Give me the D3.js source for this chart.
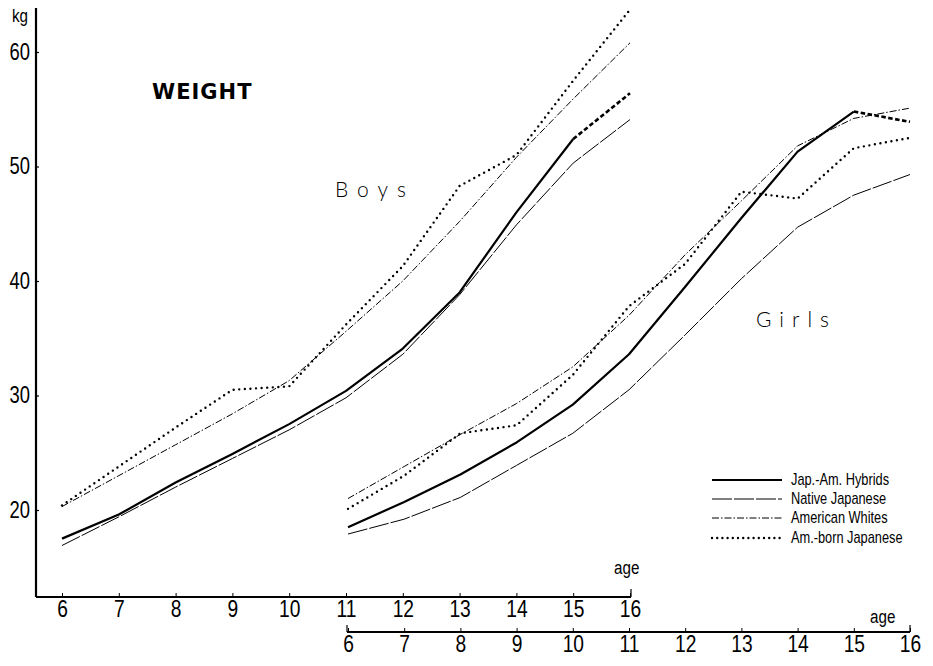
<!DOCTYPE html>
<html><head><meta charset="utf-8">
<script src="https://cdn.jsdelivr.net/npm/d3@7"></script>
<style>
body{margin:0;background:#fff;}
svg{display:block;}
.cond{font-family:"Liberation Sans Narrow","Liberation Sans",sans-serif;}
</style></head>
<body><svg id="c" width="933" height="666"></svg>
<script>
const ages = [6,7,8,9,10,11,12,13,14,15,16];
const yTicks = [20,30,40,50,60];
const seriesNames = ["Jap.-Am. Hybrids","Native Japanese","American Whites","Am.-born Japanese"];
// Boys weights (kg)
const boysHybrids = [17.5,19.6,22.4,24.9,27.5,30.4,34.1,39.0,46.0,52.4,56.4];
const boysNative  = [16.9,19.4,22.0,24.5,27.0,29.8,33.6,38.8,44.9,50.3,54.1];
const boysWhites  = [20.3,23.0,25.7,28.4,31.3,35.6,40.0,45.2,50.8,55.9,60.8];
const boysAmBorn  = [20.4,23.8,27.2,30.5,30.8,36.2,41.3,48.3,51.0,57.5,63.7];
// Girls weights (kg)
const girlsHybrids = [18.5,20.7,23.1,25.9,29.2,33.6,39.5,45.5,51.3,54.8,53.9];
const girlsNative  = [17.9,19.2,21.1,23.9,26.7,30.5,35.3,40.2,44.7,47.5,49.3];
const girlsWhites  = [21.0,23.8,26.6,29.3,32.5,37.0,42.3,47.0,51.8,54.2,55.1];
const girlsAmBorn  = [20.1,23.0,26.7,27.4,31.8,37.8,41.5,47.8,47.2,51.6,52.5];

const svg = d3.select("#c");
const y = d3.scaleLinear().domain([20,60]).range([510,52]);
const xB = d3.scaleLinear().domain([6,16]).range([62,630]);
const xG = d3.scaleLinear().domain([6,16]).range([348,910]);
const yAxisX = 36;
const yTop = 8, yBottom = y(12.4);
const girlsAxisY = 632;
const SQ = 0.8; // horizontal squeeze to imitate the condensed face

const styles = [
  {w:2.2, dash:null, cap:"butt"},
  {w:1.0, dash:"20,2", cap:"butt"},
  {w:1.0, dash:"7,2,1.5,2", cap:"butt"},
  {w:2.4, dash:"0,5.6", cap:"round"}
];

// axes
const yAx = d3.axisLeft(y).tickValues(yTicks).tickSizeInner(-3).tickSizeOuter(0).tickPadding(6);
const gy = svg.append("g").attr("transform",`translate(${yAxisX},0)`).call(yAx);
gy.select(".domain").remove();
gy.selectAll("text").attr("class","cond").attr("font-size",23).attr("fill","#000")
  .attr("x",null).attr("transform",`translate(-6,0) scale(${SQ},1)`);
gy.selectAll("line").attr("stroke","#000").attr("stroke-width",1.2);
svg.append("line").attr("x1",yAxisX).attr("x2",yAxisX).attr("y1",yTop).attr("y2",yBottom)
  .attr("stroke","#000").attr("stroke-width",2.2);

function xAxis(scale, yPos){
  const ax = d3.axisBottom(scale).tickValues(ages).tickSizeInner(-4).tickSizeOuter(0).tickPadding(3);
  const g = svg.append("g").attr("transform",`translate(0,${yPos})`).call(ax);
  g.select(".domain").remove();
  g.selectAll("text").attr("class","cond").attr("font-size",24).attr("fill","#000")
    .attr("transform",`scale(${SQ},1)`);
  g.selectAll("line").attr("stroke","#000").attr("stroke-width",1);
  return g;
}
xAxis(xB, yBottom);
xAxis(xG, girlsAxisY);
svg.append("line").attr("x1",yAxisX).attr("x2",xB(16)+1).attr("y1",yBottom).attr("y2",yBottom)
  .attr("stroke","#000").attr("stroke-width",2);
svg.append("line").attr("x1",xB(16)+1).attr("x2",xB(16)+1).attr("y1",yBottom).attr("y2",yBottom-8)
  .attr("stroke","#000").attr("stroke-width",1.2);
svg.append("line").attr("x1",xG(6)-1).attr("x2",xG(16)).attr("y1",girlsAxisY).attr("y2",girlsAxisY)
  .attr("stroke","#000").attr("stroke-width",2);
[xG(6)-1, xG(16)].forEach(xx=>{
  svg.append("line").attr("x1",xx).attr("x2",xx).attr("y1",girlsAxisY).attr("y2",girlsAxisY-7)
    .attr("stroke","#000").attr("stroke-width",1.2);
});

// lines
function drawSeries(xs, vals, st, dashedLast){
  const pts = ages.map((a,i)=>[xs(a), y(vals[i])]);
  const line = d3.line();
  const main = dashedLast ? pts.slice(0, pts.length-1) : pts;
  const p = svg.append("path").attr("d",line(main)).attr("fill","none").attr("stroke","#000")
    .attr("stroke-width",st.w).attr("stroke-linecap",st.cap).attr("stroke-linejoin","round");
  if(st.dash) p.attr("stroke-dasharray",st.dash);
  if(dashedLast){
    svg.append("path").attr("d",line(pts.slice(pts.length-2))).attr("fill","none").attr("stroke","#000")
      .attr("stroke-width",2.6).attr("stroke-dasharray","4.5,2.5");
  }
}
const boys = [boysHybrids,boysNative,boysWhites,boysAmBorn];
const girls = [girlsHybrids,girlsNative,girlsWhites,girlsAmBorn];
[1,2,3,0].forEach(i=>{
  drawSeries(xB, boys[i], styles[i], i===0);
  drawSeries(xG, girls[i], styles[i], i===0);
});

// texts
function condText(x, yy, size, str){
  svg.append("text").attr("class","cond").attr("font-size",size).attr("fill","#000")
    .attr("transform",`translate(${x},${yy}) scale(${SQ},1)`).text(str);
}
condText(12, 22, 19, "kg");
svg.append("text").attr("x",152).attr("y",99).attr("font-family","DejaVu Sans")
  .attr("font-weight","bold").attr("font-size",21).attr("letter-spacing",1).text("WEIGHT");
svg.append("text").attr("x",335).attr("y",197).attr("font-family","Lato, 'DejaVu Sans'")
  .attr("font-weight",300).attr("font-size",21).attr("letter-spacing",9).attr("fill","#000").text("Boys");
svg.append("text").attr("x",756).attr("y",327).attr("font-family","Lato, 'DejaVu Sans'")
  .attr("font-weight",300).attr("font-size",21).attr("letter-spacing",8).attr("fill","#000").text("Girls");
condText(614, 574, 19, "age");
condText(870, 623, 19, "age");

// legend
const legY = [480,499,518,538];
seriesNames.forEach((n,i)=>{
  const st = styles[i];
  const l = svg.append("line").attr("x1",712).attr("x2",782).attr("y1",legY[i]).attr("y2",legY[i])
    .attr("stroke","#000").attr("stroke-width",i===0?1.8:st.w).attr("stroke-linecap",st.cap);
  if(st.dash) l.attr("stroke-dasharray", i===3 ? "0,5.2" : st.dash);
  condText(791, legY[i]+5, 16, n);
});
</script>
</body></html>
